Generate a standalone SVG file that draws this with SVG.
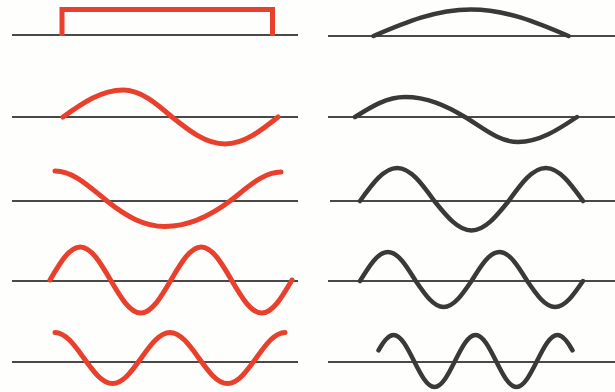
<svg xmlns="http://www.w3.org/2000/svg" width="615" height="392" viewBox="0 0 615 392">
<style>
.axis{stroke:#4a4848;stroke-width:2;fill:none}
.red{stroke:#e8402c;stroke-width:5;fill:none;stroke-linecap:round;stroke-linejoin:miter}
.blk{stroke:#3b3838;stroke-width:4.5;fill:none;stroke-linecap:round;stroke-linejoin:round}
</style>
<rect width="615" height="392" fill="#fefefc"/>
<g id="axes">
<line class="axis" x1="12" y1="35" x2="298" y2="35"/>
<line class="axis" x1="12" y1="117" x2="298" y2="117"/>
<line class="axis" x1="12" y1="201" x2="298" y2="201"/>
<line class="axis" x1="12" y1="281" x2="298" y2="281"/>
<line class="axis" x1="12" y1="362" x2="298" y2="362"/>
<line class="axis" x1="328" y1="36" x2="615" y2="36"/>
<line class="axis" x1="328" y1="117" x2="615" y2="117"/>
<line class="axis" x1="330" y1="201" x2="615" y2="201"/>
<line class="axis" x1="328" y1="281" x2="615" y2="281"/>
<line class="axis" x1="328" y1="362" x2="615" y2="362"/>
</g>
<g id="left-1"><path class="red" style="stroke-linecap:butt" d="M62,36 V9.5 H272.5 V36"/></g>
<g id="left-2"><path class="red" d="M63,117 c19.57,-13.83 38.29,-27 60,-27 c17.73,0 33.02,13.17 49,27 c17.28,13.83 33.82,27 53,27 c19.18,0 35.72,-13.17 53,-27"/></g>
<g id="left-3"><path class="red" d="M55,171 c18.82,0 35,16.4 52,30 c18.91,15.13 37.01,25.5 58,25.5 c23.52,0 43.80,-9.6 65,-25.5 c16.63,-12.47 32.54,-29 51,-29"/></g>
<g id="left-4"><path class="red" d="M50,280 c9.86,-16.91 19.30,-33 30.25,-33 c10.95,0 20.39,16.09 30.25,33 c9.86,16.91 19.30,33 30.25,33 c10.95,0 20.39,-16.09 30.25,-33 c9.86,-16.91 19.30,-33 30.25,-33 c10.95,0 20.39,16.09 30.25,33 c9.86,16.91 19.30,33 30.25,33 c10.95,0 20.39,-16.09 30.25,-33"/></g>
<g id="left-5"><path class="red" d="M55,332.5 c10.40,0 19.37,12.44 28.75,25.5 c9.38,13.06 18.35,25.5 28.75,25.5 c10.40,0 19.37,-12.44 28.75,-25.5 c9.38,-13.06 18.35,-25.5 28.75,-25.5 c10.40,0 19.37,12.44 28.75,25.5 c9.38,13.06 18.35,25.5 28.75,25.5 c10.40,0 19.37,-12.44 28.75,-25.5 c9.38,-13.06 18.35,-25.5 28.75,-25.5"/></g>
<g id="right-1"><path class="blk" d="M373.5,36 c31.79,-13.58 62.21,-26.5 97.5,-26.5 c35.29,0 65.71,12.92 97.5,26.5"/></g>
<g id="right-2"><path class="blk" d="M355,117 c16.31,-10.25 31.91,-20 50,-20 c21.71,0 40.43,8.26 60,20 c17.28,10.37 33.82,25 53,25 c21.35,0 39.76,-12.19 59,-25"/></g>
<g id="right-3"><path class="blk" d="M360,201 c12.12,-16.91 23.72,-33 37.17,-33 c13.45,0 25.05,16.09 37.17,33 c12.12,15.11 23.72,29.5 37.17,29.5 c13.45,0 25.05,-14.39 37.17,-29.5 c12.12,-16.91 23.72,-33 37.17,-33 c13.45,0 25.05,16.09 37.17,33"/></g>
<g id="right-4"><path class="blk" d="M360,281 c9.09,-14.86 17.79,-29 27.875,-29 c10.09,0 18.79,14.14 27.875,29 c9.09,13.32 17.79,26 27.875,26 c10.09,0 18.79,-12.68 27.875,-26 c9.09,-14.86 17.79,-29 27.875,-29 c10.09,0 18.79,14.14 27.875,29 c9.09,13.32 17.79,26 27.875,26 c10.09,0 18.79,-12.68 27.875,-26"/></g>
<g id="right-5"><path class="blk" d="M378.5,350.4 C383.5,341.3 388.5,335 393.5,335 c7.42,0 13.81,12.68 20.5,26 c6.69,13.32 13.08,26 20.5,26 c7.42,0 13.81,-12.68 20.5,-26 c6.69,-13.32 13.08,-26 20.5,-26 c7.42,0 13.81,12.68 20.5,26 c6.69,13.32 13.08,26 20.5,26 c7.42,0 13.81,-12.68 20.5,-26 c6.69,-13.32 13.08,-26 20.5,-26 C562.5,335 567.5,341.3 572.5,350.4"/></g>
</svg>
